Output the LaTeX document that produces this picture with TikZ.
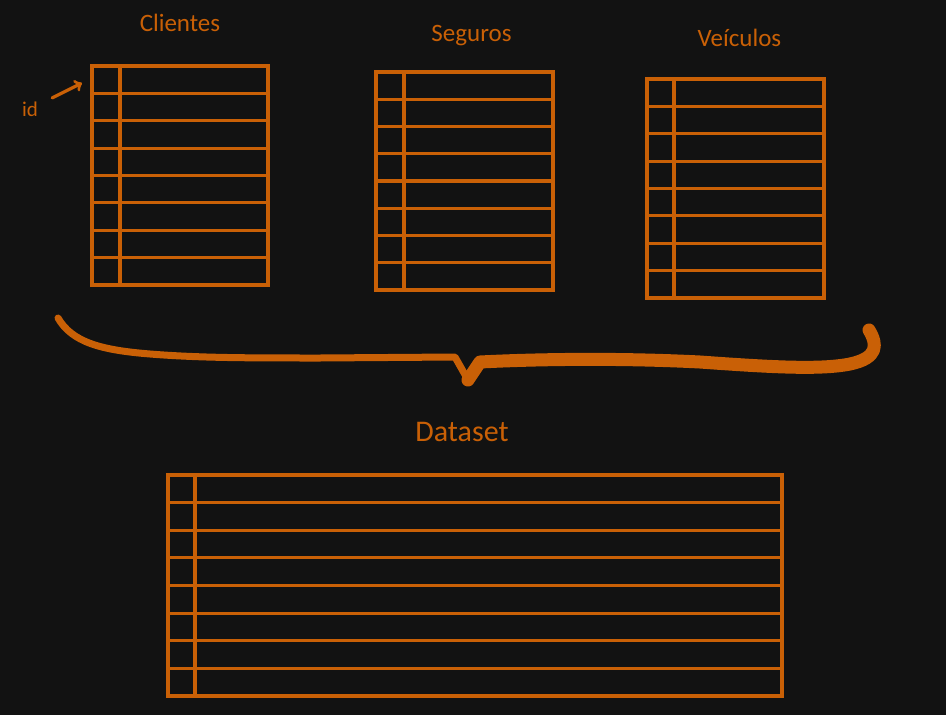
\documentclass[tikz,border=0pt]{standalone}
\usepackage{fontspec}
\setmainfont{Carlito}
\usepackage{tikz}
\usetikzlibrary{calc,positioning}
\definecolor{fundo}{RGB}{18,18,18}
\definecolor{laranja}{RGB}{201,96,6}

\tikzset{
  traco/.style={draw=laranja, line width=3.2pt},
  tabela/.style={traco, inner sep=0pt, outer sep=0pt, minimum width=177pt, minimum height=219pt},
  titulo/.style={text=laranja, inner sep=0pt, font=\fontsize{25}{30}\selectfont},
}

\begin{document}
\begin{tikzpicture}[x=1pt, y=-1pt]
\fill[fundo] (0,0) rectangle (946,715);
\useasboundingbox (0,0) rectangle (946,715);

\node[tabela, minimum width=176pt](cli) at (180,175.5) {};
\node[tabela, minimum height=218pt](seg) at (464.5,181) {};
\node[tabela](vei) at (735.5,188.5) {};
\node[tabela, minimum width=614pt, minimum height=221pt](dat) at (475,585.5) {};

\node[titulo, above=34pt of cli](tcli) {Clientes};
\node[titulo, above=26pt of seg, xshift=7pt](tseg) {Seguros};
\node[titulo, above=32pt of vei, xshift=4pt](tvei) {Veículos};
\node[titulo, above=33pt of dat, xshift=-13pt, font=\fontsize{30}{36}\selectfont](tdat) {Dataset};

\foreach \t/\d in {cli/28,seg/28,vei/27,dat/27}{
  \draw[traco] ($(\t.north west)+(\d,0)$) -- ($(\t.south west)+(\d,0)$);
  \foreach \i in {1,...,7}
    \draw[traco] ($(\t.north west)!\i/8!(\t.south west)$) -- ($(\t.north east)!\i/8!(\t.south east)$);
}

\node[text=laranja, font=\fontsize{21}{24}\selectfont](id) at (30,109) {id};
\coordinate(idseta) at (82,83);
\draw[->, traco, line cap=round, shorten <=12pt] (id) -- (idseta);

% chave
\draw[laranja, line width=7pt, line cap=round, line join=round]
  (58,318) .. controls (72,342) and (100,350) .. (150,354)
  .. controls (200,358) and (250,358) .. (320,358) -- (455,357) -- (468,380);
\draw[laranja, line width=13pt, line cap=round, line join=round]
  (468,380) -- (480,362) .. controls (540,359) and (620,358) .. (700,362)
  .. controls (770,367) and (820,370) .. (850,364)
  .. controls (878,358) and (878,345) .. (869,330);
\end{tikzpicture}
\end{document}
